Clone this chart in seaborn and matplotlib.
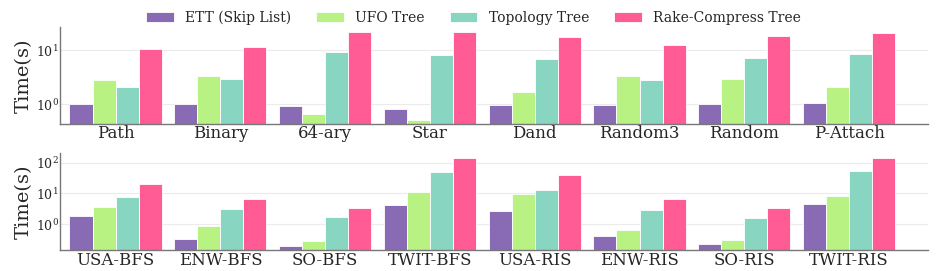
import matplotlib
matplotlib.use("Agg")
import matplotlib.pyplot as plt
import seaborn as sns
import pandas as pd

methods = ["ETT (Skip List)", "UFO Tree", "Topology Tree", "Rake-Compress Tree"]
colors = ["#896AB4", "#B7F283", "#88D5C2", "#FF5C96"]

synthetic = ["Path", "Binary", "64-ary", "Star", "Dand", "Random3", "Random", "P-Attach"]
synth_ett = [1.0, 0.99, 0.92, 0.83, 0.95, 0.97, 1.0, 1.03]
synth_ufo = [2.78, 3.3, 0.66, 0.51, 1.69, 3.3, 2.94, 2.04]
synth_topo = [2.09, 2.9, 9.06, 8.1, 6.7, 2.82, 7.0, 8.5]
synth_rc = [10.3, 11.5, 21.9, 21.2, 17.4, 12.2, 17.9, 20.6]

real = ["USA-BFS", "ENW-BFS", "SO-BFS", "TWIT-BFS", "USA-RIS", "ENW-RIS", "SO-RIS", "TWIT-RIS"]
real_ett = [1.82, 0.343, 0.198, 4.13, 2.71, 0.41, 0.236, 4.57]
real_ufo = [3.65, 0.88, 0.288, 11.5, 9.4, 0.64, 0.318, 8.5]
real_topo = [7.7, 3.14, 1.69, 51.0, 13.0, 2.99, 1.64, 53.7]
real_rc = [20.3, 6.47, 3.39, 138.0, 40.8, 6.8, 3.47, 141.0]


def to_long(cats, series):
    rows = []
    for m, vals in zip(methods, series):
        for c, v in zip(cats, vals):
            rows.append({"graph": c, "method": m, "time": v})
    return pd.DataFrame(rows)


top_df = to_long(synthetic, [synth_ett, synth_ufo, synth_topo, synth_rc])
bot_df = to_long(real, [real_ett, real_ufo, real_topo, real_rc])

sns.set_style("whitegrid")
plt.rcParams["font.family"] = ["DejaVu Serif"]
plt.rcParams["mathtext.fontset"] = "dejavuserif"

fig = plt.figure(figsize=(9.47, 2.71), dpi=100)
ax1 = fig.add_axes([0.0634, 0.5424, 0.9162, 0.358])
ax2 = fig.add_axes([0.0634, 0.0764, 0.9162, 0.358])

for ax, df, ylim in [(ax1, top_df, (0.43, 26.7)), (ax2, bot_df, (0.143, 202))]:
    sns.barplot(data=df, x="graph", y="time", hue="method", palette=colors,
                width=0.88, edgecolor="white", linewidth=0.6, saturation=1,
                ax=ax, legend=(ax is ax1))
    ax.set_yscale("log")
    ax.set_ylim(*ylim)
    ax.set_xlim(-0.53, 7.75)
    ax.set_xlabel("")
    ax.set_ylabel("Time(s)", fontsize=14)
    ax.tick_params(axis="x", labelsize=12, pad=1, length=0)
    ax.tick_params(axis="y", labelsize=9, pad=1, length=0)
    ax.tick_params(axis="y", which="minor", length=0)
    ax.grid(axis="y", which="major", color="#EBEBEB", linewidth=0.8)
    ax.grid(axis="x", visible=False)
    ax.grid(axis="y", which="minor", visible=False)
    for s in ["top", "right"]:
        ax.spines[s].set_visible(False)
    for s in ["left", "bottom"]:
        ax.spines[s].set_color("#777777")
        ax.spines[s].set_linewidth(1.0)
    ax.yaxis.set_label_coords(-0.031, 0.5)

handles, labels = ax1.get_legend_handles_labels()
ax1.get_legend().remove()
fig.legend(handles, labels, loc="center", bbox_to_anchor=(0.5, 0.935), ncol=4,
           frameon=False, fontsize=10, handlelength=2.0, handleheight=0.8,
           columnspacing=1.8, borderaxespad=0)

fig.savefig("out.png", dpi=100)
